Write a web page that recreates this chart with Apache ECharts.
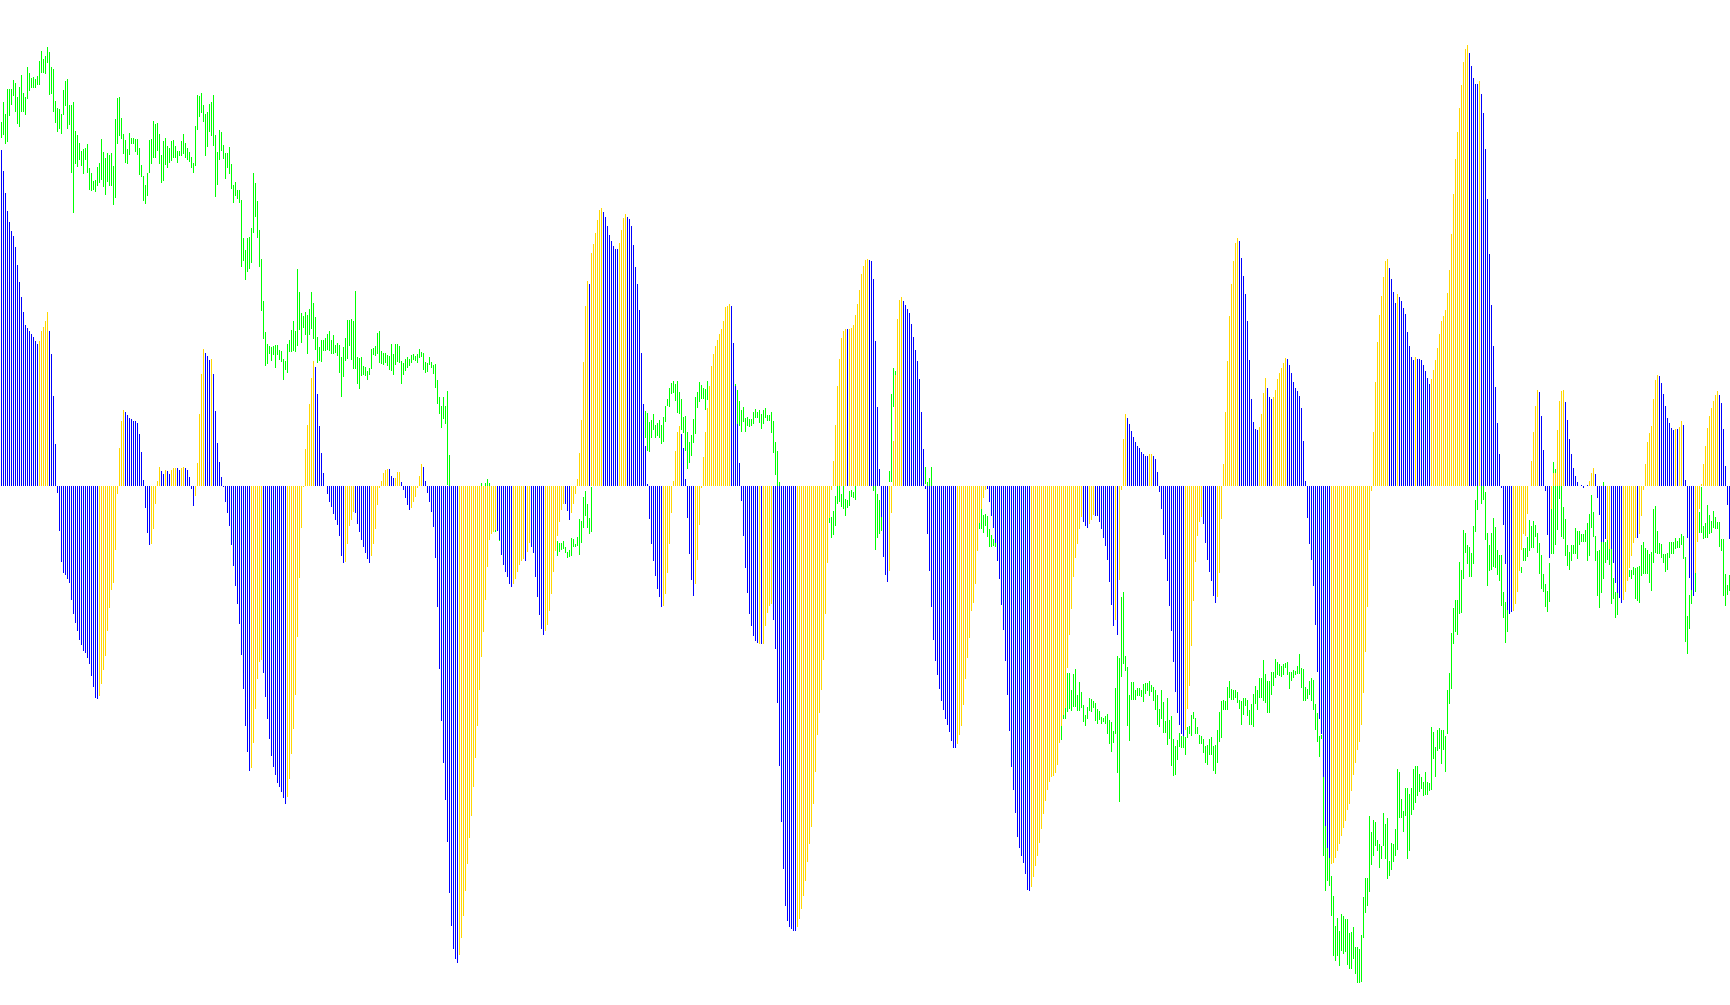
<!DOCTYPE html>
<html><head><meta charset="utf-8">
<style>html,body{margin:0;padding:0;background:#fff}#c{width:1730px;height:1005px}</style>
<script src="https://cdn.jsdelivr.net/npm/echarts@6/dist/echarts.min.js"></script>
</head><body><div id="c"></div>
<script>
const hist1=[336,315,293,275,264,255,250,239,221,204,189,174,161,158,155,152,149,145,142,145,155,159,165,174,155,132,90,42,-7,-45,-76,-87,-89,-93,-97,-114,-128,-137,-145,-154,-159,-165,-167,-172,-178,-190,-201,-212,-213,-210,-198,-184,-170,-145,-122,-104,-97,-64,-8,38,65,76,74,71,68,67,65,65,63,52,34,6,-22,-47,-59,-58,-43,-18,5,19,15,12,16,15,12,16,18,18,18,16,18,19,18,16,9,-3];
const hist2=[-20,-10,23,72,112,137,133,130,126,127,112,75,43,24,9,-1,-16,-27,-40,-59,-80,-100,-118,-138,-169,-203,-240,-266,-285,-282,-257,-223,-193,-176,-174,-187,-211,-233,-253,-270,-281,-289,-297,-301,-306,-312,-318,-311,-293,-268,-243,-209,-151,-92,-42,-1,37,61,82,108,125,119,92,60,33,13,0,-8,-16,-21,-28,-34,-39,-50,-70,-77,-76,-58,-40,-34,-26,-27,-38,-46,-54,-61,-67,-73,-77,-70,-58,-43,-19,-2,5,13];
const hist3=[16,17,17,10,8,8,14,14,4,-4,-12,-19,-24,-22,-16,-11,-2,10,22,19,5,-7,-16,-26,-41,-72,-121,-183,-235,-277,-314,-356,-407,-440,-463,-473,-477,-469,-452,-430,-405,-378,-352,-330,-301,-272,-240,-204,-171,-146,-114,-81,-54,-48,-46,-44,-45,-54,-69,-79,-86,-91,-98,-101,-98,-93,-86,-79,-75,-73,-75,-66,-57,-61,-67,-91,-111,-129,-143,-149,-145,-139,-125,-108,-86,-65,-50,-36,-24,-18,-18,-25,-34,-27,-18,-8];
const hist4=[7,33,66,124,180,205,202,233,242,253,266,276,278,274,269,260,251,245,240,237,237,243,256,268,272,269,267,260,241,219,202,176,133,82,40,2,-33,-58,-75,-90,-103,-111,-121,-120,-108,-87,-58,-27,5,35,54,60,52,38,7,-32,-68,-94,-110,-98,-74,-39,-2,29,54,78,100,120,132,140,146,152,157,165,179,180,182,180,143,100,62,23,-15,-50,-82,-107,-128,-140,-150,-155,-157,-158,-158,-158,-140,-127];
const hist5=[-120,-118,-134,-163,-217,-280,-336,-383,-420,-435,-441,-443,-445,-445,-441,-433,-423,-410,-395,-376,-358,-341,-318,-286,-249,-227,-204,-174,-128,-77,-32,-4,25,61,100,127,148,155,157,157,157,158,161,171,182,196,212,220,226,227,226,225,207,145,79,17,-31,-71,-89,-96,-85,-27,45,111,167,186,189,185,181,177,173,162,149,136,125,107,74,37,-3,-48,-85,-121,-154,-175,-189,-203,-215,-224,-233,-239,-246,-255,-262,-262,-258,-249];
const hist6=[-240,-219,-193,-172,-152,-125,-117,-98,-65,-37,-23,-12,-4,-3,-16,-30,-42,-57,-75,-93,-119,-144,-175,-209,-245,-281,-304,-327,-351,-362,-370,-377,-388,-404,-405,-401,-391,-380,-370,-357,-343,-328,-315,-304,-296,-291,-290,-287,-279,-257,-240,-229,-222,-182,-149,-123,-91,-72,-58,-43,-31,-36,-40,-42,-38,-34,-29,-30,-30,-36,-43,-52,-60,-74,-96,-119,-140,-134,-149,-94,-4,47,72,68,62,55,49,44,40,38,34,32,30,30,32,32];
const hist7=[30,27,14,-6,-23,-49,-73,-95,-120,-145,-176,-206,-227,-239,-248,-250,-244,-223,-200,-160,-115,-76,-50,-36,-31,-38,-57,-74,-86,-95,-110,-117,-111,-87,-33,22,74,125,170,202,225,243,248,245,228,210,192,165,126,87,64,57,56,59,72,93,108,98,89,87,89,96,107,113,118,123,128,127,121,113,104,98,95,90,78,45,5,-32,-58,-74,-100,-139,-186,-233,-248,-291,-340,-362,-372,-378,-377,-372,-365,-358,-350,-342];
const hist8=[-335,-324,-318,-305,-289,-277,-264,-256,-239,-207,-166,-121,-64,-5,54,104,144,171,190,209,225,227,218,207,194,183,192,189,185,178,172,154,140,129,126,129,127,127,126,121,115,108,102,107,116,126,138,152,165,170,176,193,216,252,292,327,354,378,401,424,437,441,433,420,408,402,402,405,392,373,337,287,232,181,140,99,63,32,-2,-39,-78,-124,-128,-126,-125,-118,-106,-85,-64,-48,-50,-28,0,25,54,80];
const hist9=[96,94,70,36,-5,-49,-72,-23,13,13,56,85,95,96,84,66,47,32,18,10,4,0,1,-2,0,1,5,13,18,12,-12,-29,-56,-56,-53,-54,-63,-63,-77,-97,-107,-112,-117,-114,-106,-95,-82,-70,-57,-52,-52,-48,-30,-4,22,44,53,60,87,106,111,110,103,92,80,68,63,58,56,57,57,59,65,61,6,-52,-92,-104,-110,-87,-56,-23,2,22,40,58,70,78,85,91,95,91,83,57,20,-19,-53];
const histColourRuns=[
"B19 Y5 B25 Y13 B13 Y5 B2 Y1 B2 Y3 B2 Y2 B4",
"B1 Y5 B3 Y1 B19 Y6 B12 Y14 B15 Y5 B8 Y7",
"Y2 B3 Y3 B5 Y6 B18 Y19 B8 Y6 B1 Y2 B7 Y10 B3 Y3",
"Y6 B1 Y6 B8 Y4 B18 Y9 B7 Y18 B14 Y1 B1 Y3",
"Y2 B12 Y25 B1 Y10 B10 Y7 B27 Y2",
"Y13 B22 Y26 B3 Y3 B10 Y1 B1 Y4 B11 Y2",
"B16 Y9 B7 Y11 B10 Y4 B3 Y7 B22 Y7",
"Y22 B4 Y1 B8 Y1 B7 Y19 B5 Y1 B16 Y12",
"Y1 B6 Y7 B12 Y3 B6 Y2 B6 Y7 B1 Y10 B8 Y1 B1 Y2 B6 Y12 B6"];
const green1=[[364,348],[384,351],[372,342],[397,344],[397,370],[397,381],[406,390],[403,374],[389,362],[399,359],[411,374],[393,374],[389,371],[419,387],[413,395],[408,398],[409,398],[407,398],[410,401],[425,401],[435,413],[427,413],[430,412],[439,423],[434,391],[419,392],[417,374],[385,363],[378,354],[377,357],[372,352],[396,371],[405,380],[407,357],[381,361],[381,313],[384,273],[355,322],[351,319],[343,326],[335,320],[337,312],[338,326],[342,313],[318,296],[313,295],[305,296],[306,294],[319,300],[323,303],[347,306],[334,299],[328,291],[333,304],[331,300],[333,300],[320,281],[367,288],[388,342],[389,350],[368,347],[352,332],[346,323],[337,322],[353,331],[348,342],[348,342],[347,334],[347,331],[338,311],[321,309],[310,285],[301,282],[313,290],[346,313],[347,322],[365,328],[362,328],[363,335],[352,322],[331,303],[345,305],[348,321],[340,318],[338,323],[345,325],[346,328],[340,328],[335,323],[335,330],[345,330],[352,332],[343,328],[338,326],[334,324],[329,318]];
const green2=[[323,313],[360,320],[391,356],[390,369],[393,373],[381,364],[372,330],[374,339],[382,354],[384,350],[391,340],[351,289],[334,301],[356,326],[354,335],[341,327],[333,307],[333,318],[339,312],[322,297],[301,283],[304,290],[296,287],[296,283],[286,219],[248,225],[236,206],[248,214],[249,217],[258,223],[313,253],[303,269],[285,248],[256,219],[227,175],[185,147],[154,120],[142,122],[140,132],[139,125],[140,131],[141,118],[141,131],[136,126],[135,124],[127,106],[125,116],[142,113],[146,134],[156,134],[165,135],[155,134],[217,140],[194,156],[173,143],[170,158],[174,151],[171,132],[177,151],[194,157],[183,147],[169,136],[149,123],[139,125],[146,124],[146,135],[148,135],[152,136],[155,135],[146,132],[151,132],[141,133],[143,130],[141,113],[129,89],[139,109],[148,125],[166,127],[166,140],[167,126],[165,117],[195,117],[129,102],[128,97],[129,110],[120,111],[119,110],[115,106],[118,111],[137,117],[138,131],[140,130],[153,132],[155,123],[135,122],[133,121]];
const green3=[[133,123],[131,120],[130,116],[142,115],[132,111],[142,121],[142,124],[140,123],[125,102],[123,111],[127,115],[129,118],[127,120],[131,123],[132,126],[130,125],[132,123],[137,128],[134,129],[133,116],[124,113],[123,114],[129,121],[124,118],[121,112],[122,98],[106,82],[89,72],[80,58],[89,67],[80,62],[95,1],[31,0],[-4,-22],[-8,-28],[-6,-30],[-12,-34],[-10,-28],[-5,-25],[-8,-30],[-14,-38],[-12,-30],[-9,-26],[-6,-24],[-4,-20],[-8,-26],[-5,-22],[-7,-20],[3,-15],[-2,-20],[3,-18],[7,-14],[3,-12],[-10,-30],[-15,-35],[-20,-46],[-20,-40],[-30,-55],[-26,-44],[-22,-40],[-28,-48],[-30,-50],[-26,-45],[-24,-42],[-30,-52],[-34,-54],[-28,-46],[-26,-44],[-30,-48],[-34,-52],[-32,-50],[-30,-46],[-28,-44],[-32,-50],[-36,-55],[-34,-52],[-38,-55],[-36,-54],[-40,-58],[-38,-56],[-42,-60],[-44,-62],[-46,-64],[-42,-58],[-48,-62],[-50,-64],[-55,-70],[-57,-66],[-57,-64],[-55,-63],[-61,-67],[-66,-72],[-64,-71],[-52,-70],[-53,-61],[-58,-61]];
const green4=[[-51,-60],[-33,-69],[-35,-57],[-11,-42],[-5,-30],[-18,-42],[-32,-48],[-1,-46],[12,3],[15,5],[20,8],[22,10],[30,12],[28,14],[35,20],[40,22],[38,25],[45,28],[50,30],[48,32],[55,35],[60,38],[58,40],[65,42],[62,44],[68,45],[70,50],[66,48],[72,52],[70,48],[75,50],[72,52],[78,55],[70,45],[75,48],[73,35],[64,34],[66,48],[72,56],[61,48],[63,50],[66,48],[61,42],[69,44],[80,64],[87,80],[98,79],[103,92],[105,93],[102,85],[105,73],[94,72],[87,56],[69,53],[70,35],[54,17],[44,23],[51,30],[67,43],[89,52],[94,78],[104,84],[101,87],[98,87],[97,76],[105,86],[100,86],[108,90],[110,88],[112,94],[115,96],[112,92],[118,98],[120,100],[116,96],[112,94],[110,92],[108,90],[106,92],[102,90],[96,62],[85,60],[76,54],[79,64],[68,54],[69,60],[67,59],[67,60],[74,62],[77,68],[74,68],[76,63],[72,57],[76,62],[78,68],[71,65]];
const green5=[[71,65],[74,53],[65,33],[44,11],[35,0],[4,-10],[-5,-22],[-8,-26],[-12,-30],[-10,-28],[-6,-24],[-14,-34],[-16,-36],[-12,-30],[-9,-27],[-7,-25],[-11,-31],[-15,-33],[-13,-29],[-10,-26],[-8,-28],[-12,-32],[-14,-30],[-16,-34],[-12,-28],[-10,-25],[-13,-30],[-15,-32],[-12,-27],[-10,-24],[-30,-37],[-31,-52],[-25,-49],[-10,-40],[0,-18],[0,-16],[-8,-21],[0,-23],[-13,-30],[-14,-22],[-5,-20],[-4,-11],[-6,-12],[0,-14],[12,0],[18,4],[22,6],[16,3],[20,5],[14,2],[10,1],[8,0],[0,-5],[0,-64],[-8,-52],[-14,-48],[-31,-45],[-20,-50],[-25,-55],[-30,-60],[15,4],[92,4],[118,79],[115,111],[100,80],[108,85],[112,90],[106,86],[104,82],[110,88],[102,84],[98,78],[104,80],[96,76],[100,78],[80,60],[55,35],[30,10],[19,2],[4,0],[8,0],[19,0],[-12,-30],[-16,-34],[-14,-36],[-18,-40],[-20,-38],[-16,-34],[-20,-42],[-22,-44],[-18,-36],[-24,-46],[-26,-48],[-22,-40],[-28,-50],[-30,-52]];
const green6=[[-15,-35],[-18,-38],[-14,-30],[-20,-40],[-16,-34],[-22,-44],[-18,-38],[-20,-36],[-24,-42],[-37,-43],[-23,-43],[-29,-47],[-28,-40],[-30,-51],[-43,-61],[-49,-61],[-53,-60],[-57,-61],[-60,-70],[-65,-85],[-70,-100],[-80,-110],[-85,-120],[-90,-130],[-95,-140],[-105,-150],[-115,-160],[-120,-170],[-130,-175],[-135,-180],[-140,-190],[-150,-195],[-155,-200],[-160,-205],[-165,-210],[-170,-215],[-175,-220],[-180,-225],[-185,-228],[-190,-230],[-195,-235],[-200,-240],[-205,-245],[-210,-250],[-215,-252],[-218,-255],[-222,-258],[-225,-256],[-228,-260],[-230,-255],[-240,-254],[-229,-233],[-222,-233],[-187,-226],[-187,-223],[-204,-225],[-188,-221],[-183,-221],[-209,-225],[-196,-225],[-206,-222],[-219,-236],[-229,-240],[-221,-233],[-212,-225],[-213,-226],[-215,-222],[-217,-235],[-223,-238],[-225,-234],[-231,-238],[-232,-236],[-230,-238],[-228,-248],[-234,-258],[-236,-266],[-245,-257],[-202,-248],[-170,-287],[-172,-316],[-111,-191],[-106,-178],[-170,-185],[-181,-240],[-209,-255],[-196,-214],[-196,-214],[-204,-214],[-202,-210],[-202,-210],[-204,-211],[-198,-216],[-197,-208],[-197,-205],[-195,-210],[-199,-206]];
const green7=[[-201,-215],[-204,-224],[-209,-239],[-223,-241],[-204,-233],[-216,-247],[-235,-247],[-212,-259],[-234,-253],[-230,-280],[-253,-290],[-260,-289],[-254,-274],[-247,-261],[-250,-262],[-250,-262],[-251,-269],[-241,-252],[-240,-248],[-229,-250],[-226,-233],[-232,-248],[-241,-248],[-249,-258],[-250,-258],[-253,-267],[-260,-277],[-259,-279],[-253,-269],[-251,-269],[-260,-285],[-259,-288],[-244,-277],[-226,-256],[-215,-252],[-214,-224],[-215,-224],[-201,-224],[-195,-212],[-203,-214],[-204,-214],[-204,-212],[-206,-217],[-214,-223],[-215,-239],[-212,-229],[-212,-220],[-214,-230],[-224,-239],[-218,-239],[-208,-241],[-200,-218],[-204,-224],[-192,-212],[-192,-212],[-174,-215],[-188,-217],[-195,-227],[-195,-227],[-186,-209],[-186,-200],[-173,-192],[-176,-189],[-178,-190],[-180,-191],[-178,-189],[-177,-182],[-176,-189],[-186,-203],[-186,-195],[-184,-192],[-185,-189],[-180,-188],[-168,-188],[-182,-202],[-183,-215],[-201,-215],[-203,-213],[-195,-209],[-192,-215],[-194,-224],[-218,-244],[-227,-256],[-250,-271],[-249,-253],[-291,-370],[-340,-405],[-362,-395],[-372,-400],[-390,-430],[-410,-470],[-440,-475],[-432,-470],[-445,-480],[-428,-465],[-430,-468]];
const green8=[[-433,-466],[-433,-479],[-447,-483],[-446,-483],[-441,-473],[-461,-488],[-461,-497],[-463,-497],[-449,-496],[-411,-452],[-392,-427],[-392,-420],[-330,-406],[-346,-379],[-334,-370],[-336,-360],[-354,-365],[-358,-382],[-360,-373],[-327,-360],[-338,-373],[-332,-393],[-375,-390],[-357,-384],[-358,-376],[-343,-370],[-283,-364],[-286,-332],[-313,-332],[-325,-346],[-302,-330],[-302,-373],[-308,-365],[-302,-329],[-283,-324],[-280,-317],[-280,-310],[-288,-306],[-291,-303],[-296,-310],[-286,-309],[-296,-309],[-297,-305],[-241,-304],[-246,-273],[-261,-291],[-244,-265],[-242,-263],[-244,-278],[-244,-264],[-250,-286],[-204,-248],[-187,-218],[-147,-203],[-122,-158],[-114,-146],[-114,-149],[-76,-128],[-84,-127],[-44,-93],[-47,-67],[-59,-78],[-61,-91],[-67,-91],[-40,-78],[-14,-46],[0,-24],[10,0],[0,-18],[0,-14],[-6,-54],[-47,-100],[-59,-85],[-47,-84],[-32,-81],[-41,-82],[-64,-89],[-69,-95],[-69,-120],[-106,-132],[-116,-157],[-124,-146],[-90,-120],[-85,-115],[-85,-110],[-80,-110],[-80,-100],[-75,-85],[-81,-87],[-62,-75],[-62,-75],[-51,-71],[-34,-65],[-40,-62],[-35,-62],[-39,-51]];
const green9=[[-47,-67],[-57,-88],[-69,-103],[-88,-106],[-98,-121],[-105,-126],[-77,-116],[-23,-68],[24,-68],[17,-59],[0,-44],[0,-13],[0,-51],[-21,-53],[-33,-70],[-59,-80],[-66,-84],[-59,-75],[-59,-68],[-42,-68],[-45,-73],[-45,-59],[-48,-56],[-48,-56],[-44,-56],[-37,-75],[-28,-70],[-9,-42],[-26,-51],[-50,-75],[-65,-110],[-64,-122],[-45,-107],[4,-93],[-56,-77],[-54,-74],[-63,-79],[-63,-118],[-92,-113],[-106,-132],[-105,-129],[-80,-105],[-80,-105],[-80,-105],[-80,-100],[-75,-90],[-84,-91],[-84,-93],[-81,-89],[-82,-113],[-81,-115],[-80,-117],[-59,-90],[-56,-88],[-62,-88],[-64,-88],[-68,-97],[-66,-105],[-23,-77],[-20,-67],[-45,-68],[-57,-68],[-58,-72],[-68,-77],[-68,-86],[-67,-84],[-56,-72],[-56,-68],[-56,-68],[-52,-63],[-55,-62],[-52,-62],[-48,-59],[-50,-73],[-71,-156],[-130,-168],[-109,-143],[-103,-118],[-106,-110],[-87,-106],[-30,-50],[-26,-47],[-1,-47],[-40,-53],[-37,-52],[-19,-52],[-29,-48],[-35,-47],[-25,-42],[-31,-43],[-36,-43],[-36,-61],[-53,-65],[-53,-110],[-88,-120],[-99,-109],[-89,-105]];

const histSeg=[hist1,hist2,hist3,hist4,hist5,hist6,hist7,hist8,hist9];
const greenSeg=[green1,green2,green3,green4,green5,green6,green7,green8,green9];
const hist=[].concat(...histSeg);
const greenRange=[].concat(...greenSeg);
const kinds=histColourRuns.join(' ').split(' ').flatMap(t=>Array(+t.slice(1)).fill(t[0]));
const BLUE='#0000ff',GOLD='#ffd700',LIME='#00ff00';
const chart=echarts.init(document.getElementById('c'));
chart.setOption({
  animation:false,backgroundColor:'#ffffff',
  grid:{left:0,top:0,width:1730,height:1005},
  xAxis:{type:'value',min:-0.75,max:864.25,show:false,splitLine:{show:false}},
  yAxis:{type:'value',min:-519,max:486,show:false,splitLine:{show:false}},
  tooltip:{show:false},
  series:[
    {type:'custom',z:1,silent:true,clip:false,
     data:greenRange.map((r,i)=>[i,r[0],r[1]]),
     encode:{x:0,y:[1,2]},
     renderItem:(p,api)=>{
       const a=api.coord([api.value(0),api.value(1)]),b=api.coord([api.value(0),api.value(2)]);
       return {type:'rect',shape:{x:Math.round(a[0]-0.5),y:Math.round(a[1]),width:1,height:Math.max(Math.round(b[1]-a[1]),1)},style:{fill:LIME}};
     }},
    {type:'bar',z:2,silent:true,barWidth:1,
     data:hist.map((v,i)=>({value:[i,v],itemStyle:{color:kinds[i]=='B'?BLUE:GOLD}}))}
  ]
});
</script></body></html>
